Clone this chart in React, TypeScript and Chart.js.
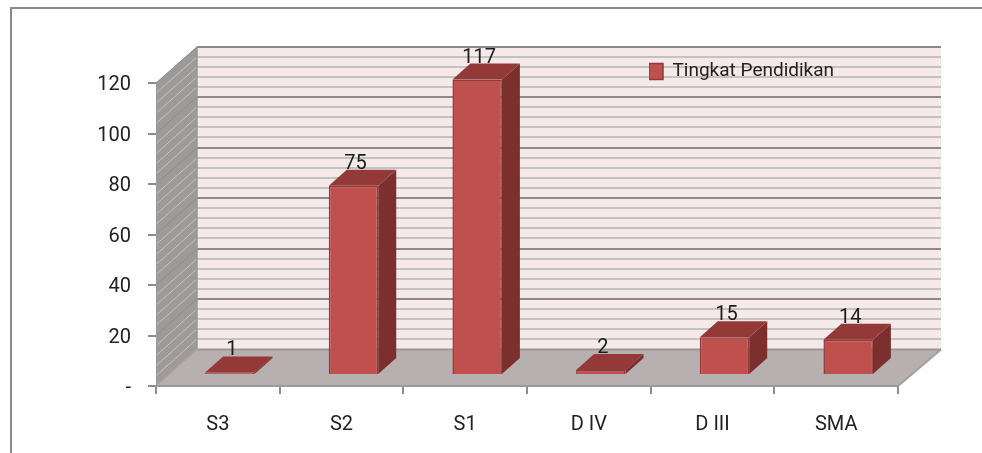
import React, { useEffect, useRef } from "react";
import { Chart, registerables } from "chart.js";

Chart.register(...registerables);

const categories = ["S3", "S2", "S1", "D IV", "D III", "SMA"];
const values = [1, 75, 117, 2, 15, 14];
const seriesName = "Tingkat Pendidikan";
const yMax = 120;
const majorStep = 20;
const minorStep = 4;

const FONT = "Roboto, sans-serif";
const wallDx = 41;
const wallDxRight = 43;
const wallDy = 36.5;
const barDx = 12;
const barDy = -11;
const depthX = 18;
const depthY = 16;

const poly = (ctx: CanvasRenderingContext2D, pts: number[][], fill: string) => {
  ctx.beginPath();
  pts.forEach((p, i) => (i ? ctx.lineTo(p[0], p[1]) : ctx.moveTo(p[0], p[1])));
  ctx.closePath();
  ctx.fillStyle = fill;
  ctx.fill();
};
const line = (ctx: CanvasRenderingContext2D, x1: number, y1: number, x2: number, y2: number, color: string, w: number) => {
  ctx.beginPath();
  ctx.moveTo(x1, y1);
  ctx.lineTo(x2, y2);
  ctx.strokeStyle = color;
  ctx.lineWidth = w;
  ctx.stroke();
};

const scene3d = {
  id: "scene3d",
  afterLayout(chart: any) {
    const lg = chart.legend;
    const w = lg.right - lg.left;
    lg.left = 649;
    lg.right = 649 + w;
    lg.top = 62;
    lg.bottom = 82;
  },
  beforeDraw(chart: any) {
    const { ctx, chartArea: a, scales } = chart;
    const y = scales.y;
    ctx.save();
    ctx.fillStyle = "#ffffff";
    ctx.fillRect(0, 0, chart.width, chart.height);
    // outer frame
    line(ctx, 11, 8, 982, 8, "#8a8a8a", 2);
    line(ctx, 11, 7, 11, 453, "#8a8a8a", 2);

    const bl = a.left + wallDx;
    const br = a.right + wallDxRight;
    const top = y.getPixelForValue(yMax);
    const zero = y.getPixelForValue(0);
    // back wall
    poly(ctx, [[bl, top - wallDy], [br, top - wallDy], [br, zero - wallDy], [bl, zero - wallDy]], "#f6e9e9");
    // side wall
    poly(ctx, [[a.left, top], [bl, top - wallDy], [bl, zero - wallDy], [a.left, zero]], "#9e9a9a");
    // floor
    poly(ctx, [[a.left, zero], [bl, zero - wallDy], [br, zero - wallDy], [a.right, zero]], "#b8b0b0");

    for (let v = minorStep; v <= yMax; v += minorStep) {
      if (v % majorStep === 0) continue;
      const p = Math.round(y.getPixelForValue(v) - wallDy);
      line(ctx, bl, p, br, p, "#c4c2be", 2);
      line(ctx, a.left, y.getPixelForValue(v), bl, p, "#c6c3c3", 1);
    }
    for (let v = majorStep; v <= yMax; v += majorStep) {
      const p = Math.round(y.getPixelForValue(v) - wallDy);
      line(ctx, bl, p, br, p, "#8a8a8a", 2);
      line(ctx, a.left, y.getPixelForValue(v), bl, p, "#8c8a8a", 1);
    }
    line(ctx, bl, top - wallDy, bl, zero - wallDy, "#999696", 1.5);
    line(ctx, bl, zero - wallDy, br, zero - wallDy, "#999696", 2);
    line(ctx, a.left, zero, bl, zero - wallDy, "#a8a4a4", 1.5);
    line(ctx, a.right, zero, br, zero - wallDy, "#a0a0a0", 2);
    ctx.restore();
  },
  beforeDatasetsDraw(chart: any) {
    const { ctx } = chart;
    ctx.save();
    ctx.translate(barDx, barDy);
    chart.getDatasetMeta(0).data.forEach((bar: any) => {
      const { x, y, base, width } = bar.getProps(["x", "y", "base", "width"], true);
      const l = x - width / 2;
      const r = x + width / 2;
      poly(ctx, [[r, y], [r + depthX, y - depthY], [r + depthX, base - depthY], [r, base]], "#7b302e");
      poly(ctx, [[l, y], [l + depthX, y - depthY], [r + depthX, y - depthY], [r, y]], "#933a38");
    });
  },
  afterDatasetsDraw(chart: any) {
    const { ctx } = chart;
    ctx.restore();
    ctx.save();
    ctx.font = `20px ${FONT}`;
    ctx.fillStyle = "#1c1c1c";
    ctx.textAlign = "center";
    ctx.textBaseline = "middle";
    chart.getDatasetMeta(0).data.forEach((bar: any, i: number) => {
      const { x, y } = bar.getProps(["x", "y"], true);
      ctx.fillText(String(values[i]), x + barDx + 2, y + barDy - 22);
    });
    ctx.restore();
  },
};

export default function App() {
  const ref = useRef<HTMLCanvasElement>(null);
  useEffect(() => {
    document.body.style.margin = "0";
    const chart = new Chart(ref.current as HTMLCanvasElement, {
      type: "bar",
      data: {
        labels: categories,
        datasets: [
          {
            label: seriesName,
            data: values,
            backgroundColor: "#c0504d",
            borderColor: "#8f3a38",
            borderWidth: 1.5,
            barPercentage: 0.4,
            categoryPercentage: 1,
            clip: false,
          } as any,
        ],
      },
      plugins: [scene3d],
      options: {
        animation: false,
        responsive: false,
        layout: { padding: { left: 0, right: 84, top: 83, bottom: 0 } },
        plugins: {
          tooltip: { enabled: false },
          legend: {
            position: "chartArea" as any,
            align: "start",
            labels: {
              boxWidth: 14,
              boxHeight: 16,
              padding: 0,
              color: "#222222",
              font: { family: FONT, size: 19 },
            },
          },
        },
        scales: {
          x: {
            afterFit(s: any) {
              s.height = 67;
            },
            grid: { drawOnChartArea: false, tickLength: 8, color: "#8c8c8c", lineWidth: 2 },
            border: { color: "#9a9a9a", width: 2 },
            ticks: { color: "#222222", padding: 19, font: { family: FONT, size: 20 } },
          },
          y: {
            min: 0,
            max: yMax,
            afterFit(s: any) {
              s.width = 156;
            },
            grid: { drawOnChartArea: false, tickLength: 8, color: "#8c8c8c", lineWidth: 2 },
            border: { color: "#9a9a9a", width: 1 },
            ticks: {
              stepSize: majorStep,
              color: "#222222",
              padding: 17,
              labelOffset: 2,
              font: { family: FONT, size: 20 },
              callback: (v: any) => (v === 0 ? "-" : String(v)),
            },
          },
        },
      },
    });
    return () => chart.destroy();
  }, []);
  return <canvas ref={ref} width={982} height={453} style={{ display: "block", filter: "blur(0.4px)" }} />;
}
